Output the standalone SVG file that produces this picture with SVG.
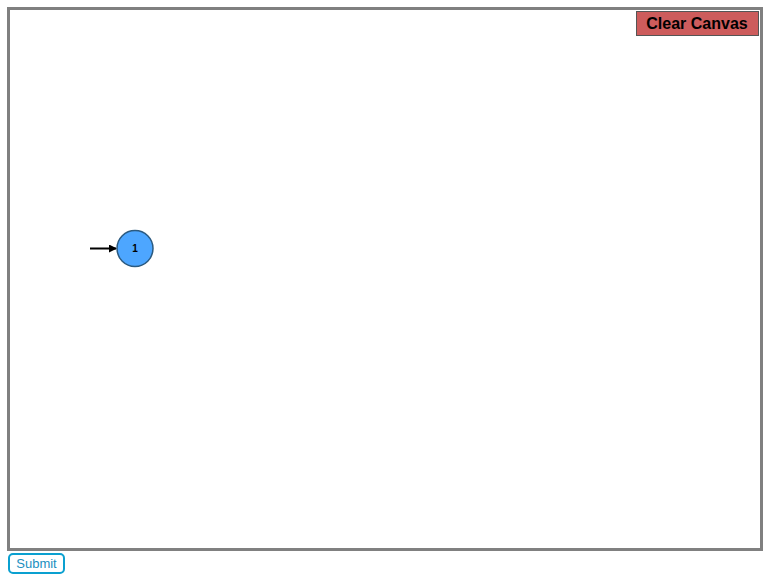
<svg xmlns="http://www.w3.org/2000/svg" width="778" height="582" viewBox="0 0 778 582">
<defs>
<marker id="ah" markerWidth="8" markerHeight="8" refX="7" refY="4" orient="auto" markerUnits="userSpaceOnUse"><path d="M0,0 L8,4 L0,8 Z" fill="#000"/></marker>
<style>
text{font-family:"Liberation Sans",Arial,sans-serif}
</style>
</defs>
<rect x="0" y="0" width="778" height="582" fill="#fff"/>
<rect x="8.5" y="8.5" width="753" height="541" fill="#fff" stroke="#808080" stroke-width="3"/>
<g id="clear">
<rect x="636.5" y="11.5" width="122" height="24" fill="#cd5c5c" stroke="#555" stroke-width="1"/>
<text x="697" y="28.5" text-anchor="middle" font-size="16" font-weight="bold" fill="#000">Clear Canvas</text>
</g>
<g id="connectors">
<line x1="90" y1="248.5" x2="116" y2="248.5" stroke="#000" stroke-width="2" marker-end="url(#ah)"/>
</g>
<g id="node1">
<circle cx="135" cy="248.5" r="18" fill="#4da6ff" stroke="#2b5a80" stroke-width="1.5"/>
<text x="135" y="252" text-anchor="middle" font-size="10" font-weight="bold" fill="#000">1</text>
</g>
<g id="submit">
<rect x="9" y="554" width="55" height="19" rx="4" fill="#fff" stroke="#0aa0d0" stroke-width="2"/>
<text x="36.5" y="568" text-anchor="middle" font-size="13" fill="#1a8fc0">Submit</text>
</g>
</svg>
